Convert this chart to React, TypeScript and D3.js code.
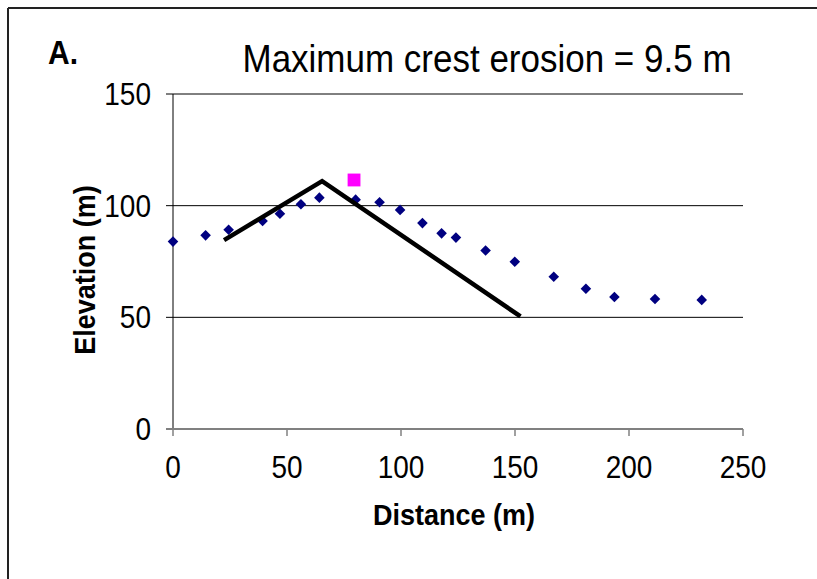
import React from "react";
import * as d3 from "d3";

const xTicks = [0, 50, 100, 150, 200, 250];
const yTicks = [0, 50, 100, 150];

const surveyX = [0, 14.3, 24.4, 39.3, 46.9, 56.1, 64.2, 80.1, 90.6, 99.6, 109.4, 117.8, 124.1, 137.1, 149.9, 167, 181.1, 193.6, 211.4, 231.9];
const surveyY = [83.9, 86.7, 89.2, 93.1, 96.4, 100.6, 103.6, 102.7, 101.5, 98.1, 92.2, 87.6, 85.7, 79.9, 74.9, 68.2, 62.8, 59.1, 58.2, 57.8];

const profileX = [22.4, 65.4, 152.4];
const profileY = [84.6, 111, 50.4];

const crestX = [79.4];
const crestY = [111.5];

const W = 817;
const H = 579;

export default function App() {
  const x = d3.scaleLinear().domain([0, 250]).range([173, 743]);
  const y = d3.scaleLinear().domain([0, 150]).range([429, 94]);
  const line = d3
    .line<number>()
    .x((_, i) => x(profileX[i]))
    .y((d) => y(d));
  const diamond = d3.symbol().type(d3.symbolSquare).size(56)();
  const square = d3.symbol().type(d3.symbolSquare).size(165)();
  const font = "'Liberation Sans', Arial, sans-serif";
  const sy = 1.1;

  return (
    <svg
      width={W}
      height={H}
      style={{ position: "absolute", left: 0, top: 0, background: "#fff" }}
      fontFamily={font}
    >
      <rect x={0} y={0} width={W} height={H} fill="#fff" />
      <line x1={8} y1={8} x2={W} y2={8} stroke="#222" strokeWidth={2} />
      <line x1={8} y1={8} x2={8} y2={H} stroke="#222" strokeWidth={2} />

      <text transform={`translate(48,64) scale(1,${sy})`} fontSize={30} fontWeight="bold" fill="#000">A.</text>
      <text transform={`translate(487,72) scale(1,${sy})`} fontSize={35} textAnchor="middle" fill="#000">
        Maximum crest erosion = 9.5 m
      </text>

      {yTicks.map((t) => (
        <g key={"y" + t}>
          {t > 0 && (
            <line x1={x(0)} x2={x(250)} y1={y(t)} y2={y(t)} stroke="#000" strokeWidth={1} />
          )}
          <line x1={x(0) - 7} x2={x(0)} y1={y(t)} y2={y(t)} stroke="#000" strokeWidth={1} />
          <text
            transform={`translate(151,${y(t) + 11}) scale(1,${sy})`}
            fontSize={28}
            textAnchor="end"
            fill="#000"
          >
            {t}
          </text>
        </g>
      ))}
      <line x1={x(0)} x2={x(0)} y1={y(150)} y2={y(0)} stroke="#000" strokeWidth={1} />
      <line x1={x(0) - 7} x2={x(250)} y1={y(0)} y2={y(0)} stroke="#808080" strokeWidth={2} />
      {xTicks.map((t) => (
        <g key={"x" + t}>
          <line x1={x(t)} x2={x(t)} y1={y(0)} y2={y(0) + 7} stroke="#808080" strokeWidth={1.5} />
          <text
            transform={`translate(${x(t)},478) scale(1,${sy})`}
            fontSize={28}
            textAnchor="middle"
            fill="#000"
          >
            {t}
          </text>
        </g>
      ))}

      <text
        transform={`translate(454,525) scale(1,${sy})`}
        fontSize={27}
        fontWeight="bold"
        textAnchor="middle"
        fill="#000"
      >
        Distance (m)
      </text>
      <text
        transform={`translate(95,270) rotate(-90) scale(1,${sy})`}
        fontSize={27}
        fontWeight="bold"
        textAnchor="middle"
        fill="#000"
      >
        Elevation (m)
      </text>

      {surveyY.map((v, i) => (
        <path
          key={"d" + i}
          d={diamond}
          transform={`translate(${x(surveyX[i])},${y(v)}) rotate(45)`}
          fill="#000080"
        />
      ))}

      <path
        d={line(profileY) || ""}
        fill="none"
        stroke="#000"
        strokeWidth={4.5}
        strokeLinejoin="miter"
      />

      {crestY.map((v, i) => (
        <path
          key={"c" + i}
          d={square}
          transform={`translate(${x(crestX[i])},${y(v)})`}
          fill="#FF00FF"
        />
      ))}
    </svg>
  );
}
